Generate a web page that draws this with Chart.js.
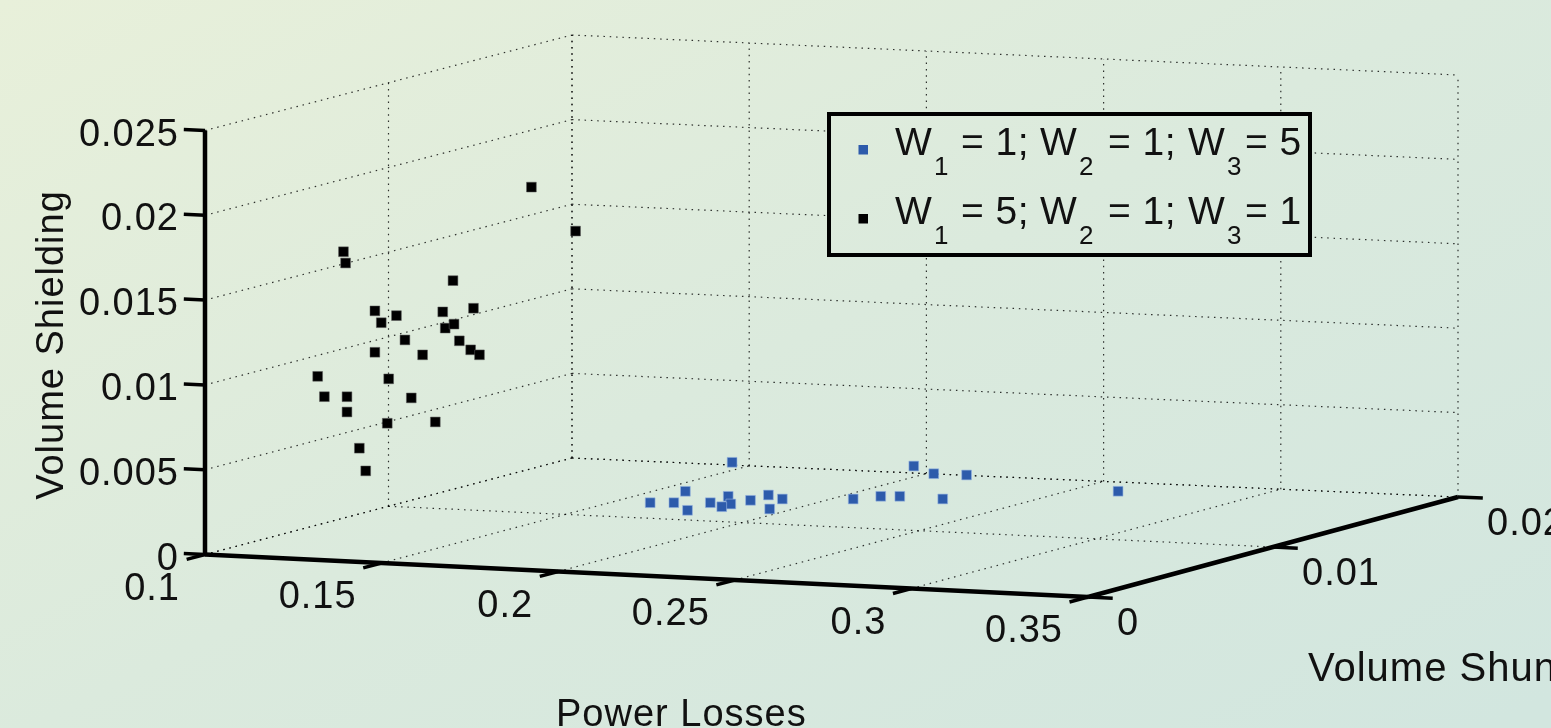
<!DOCTYPE html>
<html>
<head>
<meta charset="utf-8">
<title>Pareto fronts</title>
<script src="https://cdn.jsdelivr.net/npm/chart.js@4"></script>
<style>
  html, body { margin: 0; padding: 0; overflow: hidden; background: #dce9dc; }
  canvas { display: block; }
</style>
</head>
<body>
<canvas id="myChart" width="1551" height="728"></canvas>
<script>
// Tick values of the three axes
const powerLossTicks = [0.1, 0.15, 0.2, 0.25, 0.3, 0.35];
const powerLossLabels = ["0.1", "0.15", "0.2", "0.25", "0.3", "0.35"];
const shuntTicks = [0, 0.01, 0.02];
const shuntLabels = ["0", "0.01", "0.02"];
const shieldingTicks = [0, 0.005, 0.01, 0.015, 0.02, 0.025];
const shieldingLabels = ["0", "0.005", "0.01", "0.015", "0.02", "0.025"];

// W1 = 1; W2 = 1; W3 = 5
const bluePowerLosses = [0.1473, 0.1625, 0.1644, 0.1701, 0.1803, 0.1789, 0.1774, 0.185, 0.1853, 0.1864, 0.1859, 0.1929, 0.1989, 0.21, 0.2142, 0.2188, 0.2316, 0.1993, 0.2065, 0.2156, 0.267];
const blueVolumeShunt = [0.01959, 0.01412, 0.01184, 0.01203, 0.01081, 0.01232, 0.01358, 0.01226, 0.01171, 0.01306, 0.01413, 0.01354, 0.0117, 0.0141, 0.01479, 0.01494, 0.01481, 0.01945, 0.01915, 0.01918, 0.01752];
const blueVolumeShielding = [0.0003, 0.0003, 0.0003, 0.0003, 0.0003, 0.0003, 0.0003, 0.0003, 0.0003, 0.0003, 0.0003, 0.0003, 0.0003, 0.0003, 0.0003, 0.0003, 0.0003, 0.0006, 0.0003, 0.0003, 0.0003];

// W1 = 5; W2 = 1; W3 = 1 (depth can't be read from the flat picture, shunt is a guess)
const blackPowerLosses = [0.182, 0.1945, 0.1288, 0.1294, 0.1598, 0.1377, 0.1438, 0.1569, 0.1656, 0.1395, 0.1462, 0.1576, 0.1601, 0.1616, 0.1648, 0.1673, 0.1377, 0.1512, 0.1215, 0.1416, 0.1234, 0.1298, 0.148, 0.1298, 0.1412, 0.1548, 0.1333, 0.1351];
const blackVolumeShunt = [0.002, 0.002, 0.002, 0.002, 0.002, 0.002, 0.002, 0.002, 0.002, 0.002, 0.002, 0.002, 0.002, 0.002, 0.002, 0.002, 0.002, 0.002, 0.002, 0.002, 0.002, 0.002, 0.002, 0.002, 0.002, 0.002, 0.002, 0.002];
const blackVolumeShielding = [0.0219, 0.01943, 0.01757, 0.01691, 0.01617, 0.01417, 0.01395, 0.0143, 0.0146, 0.01349, 0.01254, 0.01335, 0.01361, 0.01264, 0.01214, 0.01187, 0.01173, 0.01171, 0.01015, 0.0102, 0.00897, 0.00903, 0.00914, 0.00813, 0.00758, 0.00779, 0.00603, 0.00471];

// Corners of the 3D box on the picture, used to flatten the data
const box = {
  floor: { front: [205, 554.5], right: [1088, 597], back: [572, 458], far: [1458, 497] },
  top: { front: [205, 130.5], right: [1088, 172], back: [572, 35], far: [1458, 75] },
};
const pMin = 0.1, pMax = 0.35, sMax = 0.02, zMax = 0.025;

const mix = (a, b, t) => a + (b - a) * t;

function project(p, s, z) {
  const fp = (p - pMin) / (pMax - pMin);
  const fs = s / sMax;
  const fz = z / zMax;
  const out = [0, 1].map((i) => {
    const floor = mix(mix(box.floor.front[i], box.floor.right[i], fp), mix(box.floor.back[i], box.floor.far[i], fp), fs);
    const top = mix(mix(box.top.front[i], box.top.right[i], fp), mix(box.top.back[i], box.top.far[i], fp), fs);
    return mix(floor, top, fz);
  });
  return { x: out[0], y: out[1] };
}

const gridLines = [];
const axisLines = [];
const tickLines = [];

// floor
powerLossTicks.forEach((p) => gridLines.push([project(p, 0, 0), project(p, sMax, 0)]));
shuntTicks.forEach((s) => gridLines.push([project(pMin, s, 0), project(pMax, s, 0)]));
// left wall
shuntTicks.forEach((s) => gridLines.push([project(pMin, s, 0), project(pMin, s, zMax)]));
shieldingTicks.forEach((z) => gridLines.push([project(pMin, 0, z), project(pMin, sMax, z)]));
// back wall
powerLossTicks.forEach((p) => gridLines.push([project(p, sMax, 0), project(p, sMax, zMax)]));
shieldingTicks.forEach((z) => gridLines.push([project(pMin, sMax, z), project(pMax, sMax, z)]));

axisLines.push([project(pMin, 0, 0), project(pMax, 0, 0)]);
axisLines.push([project(pMax, 0, 0), project(pMax, sMax, 0)]);
axisLines.push([project(pMin, 0, 0), project(pMin, 0, zMax)]);

powerLossTicks.forEach((p) => tickLines.push([project(p, 0, 0), project(p, -0.001, 0)]));
shuntTicks.forEach((s) => tickLines.push([project(pMax, s, 0), project(pMax + 0.007, s, 0)]));
shieldingTicks.forEach((z) => tickLines.push([project(pMin, 0, z), project(pMin - 0.006, 0, z)]));

const lineDataset = (points, color, width, dash, order) => ({
  data: points,
  showLine: true,
  borderColor: color,
  borderWidth: width,
  borderDash: dash,
  pointRadius: 0,
  order: order,
});

const markDataset = (label, ps, ss, zs, color, edge) => ({
  label: label,
  data: ps.map((p, i) => project(p, ss[i], zs[i])),
  pointStyle: "rect",
  pointRadius: 6.9,
  pointBackgroundColor: color,
  pointBorderColor: edge,
  pointBorderWidth: 1,
  showLine: false,
  order: 0,
});

function makeBackground(ctx) {
  const g = ctx.createLinearGradient(0, 0, 600, 1180);
  g.addColorStop(0, "#e8f0da");
  g.addColorStop(0.5, "#dbeadd");
  g.addColorStop(1, "#d2e6df");
  return g;
}

const FONT = "38px 'Liberation Sans', Arial, sans-serif";
const LEGEND_FONT = "39px 'Liberation Sans', Arial, sans-serif";
const SUB_FONT = "26px 'Liberation Sans', Arial, sans-serif";

function put(ctx, text, x, y, align, font) {
  ctx.font = font || FONT;
  ctx.textAlign = align || "left";
  ctx.textBaseline = "alphabetic";
  ctx.fillText(text, x, y);
}

const backgroundPlugin = {
  id: "paper",
  beforeDraw(chart) {
    const ctx = chart.ctx;
    ctx.save();
    ctx.fillStyle = makeBackground(ctx);
    ctx.fillRect(0, 0, chart.width, chart.height);
    ctx.restore();
  },
};

// Tick labels and axis titles, placed from the library's scales
const labelPlugin = {
  id: "labels3d",
  afterDatasetsDraw(chart) {
    const ctx = chart.ctx;
    const sx = chart.scales.x;
    const sy = chart.scales.y;
    ctx.save();
    ctx.fillStyle = "#111";
    ctx.letterSpacing = "1px";

    powerLossTicks.forEach((p, i) => {
      const pt = project(p, 0, 0);
      put(ctx, powerLossLabels[i], sx.getPixelForValue(pt.x) - 25, sy.getPixelForValue(pt.y) + 45, "right");
    });
    shuntTicks.forEach((s, i) => {
      const pt = project(pMax, s, 0);
      put(ctx, shuntLabels[i], sx.getPixelForValue(pt.x) + 29, sy.getPixelForValue(pt.y) + 38);
    });
    shieldingTicks.forEach((z, i) => {
      const pt = project(pMin, 0, z);
      put(ctx, shieldingLabels[i], sx.getPixelForValue(pt.x) - 26, sy.getPixelForValue(pt.y) + 15, "right");
    });

    put(ctx, "Volume Shunt", 1308, 681, "left", "40px 'Liberation Sans', Arial, sans-serif");
    put(ctx, "Power Losses", 556, 726);

    ctx.save();
    ctx.translate(63, 345);
    ctx.rotate(-Math.PI / 2);
    put(ctx, "Volume Shielding", 0, 0, "center");
    ctx.restore();

    ctx.restore();
  },
};

// Legend has subscripts, the built in one can't do that
const legendRows = [
  { color: "#2d5bab", y: 155, w: ["1", "2", "3"], v: ["1;", "1;", "5"] },
  { color: "#000000", y: 224, w: ["1", "2", "3"], v: ["5;", "1;", "1"] },
];

const legendPlugin = {
  id: "legend3d",
  afterDraw(chart) {
    const ctx = chart.ctx;
    ctx.save();
    ctx.fillStyle = makeBackground(ctx);
    ctx.fillRect(829, 114, 481, 141);
    ctx.strokeStyle = "#000";
    ctx.lineWidth = 4;
    ctx.strokeRect(829, 114, 481, 141);

    legendRows.forEach((row) => {
      ctx.fillStyle = row.color;
      ctx.fillRect(858.5, row.y - 10, 9.5, 9.5);
      ctx.fillStyle = "#111";
      ctx.letterSpacing = "0.5px";
      put(ctx, "W", 895, row.y, "left", LEGEND_FONT);
      put(ctx, row.w[0], 934, row.y + 20, "left", SUB_FONT);
      put(ctx, "= " + row.v[0], 961, row.y, "left", LEGEND_FONT);
      put(ctx, "W", 1040, row.y, "left", LEGEND_FONT);
      put(ctx, row.w[1], 1079, row.y + 20, "left", SUB_FONT);
      put(ctx, "= " + row.v[1], 1108, row.y, "left", LEGEND_FONT);
      put(ctx, "W", 1188, row.y, "left", LEGEND_FONT);
      put(ctx, row.w[2], 1227, row.y + 20, "left", SUB_FONT);
      put(ctx, "= " + row.v[2], 1245, row.y, "left", LEGEND_FONT);
    });
    ctx.restore();
  },
};

const ctx = document.getElementById("myChart");
new Chart(ctx, {
  type: "scatter",
  data: {
    datasets: [
      markDataset("W1 = 1; W2 = 1; W3 = 5", bluePowerLosses, blueVolumeShunt, blueVolumeShielding, "#2d5bab", "rgba(150,180,225,0.6)"),
      markDataset("W1 = 5; W2 = 1; W3 = 1", blackPowerLosses, blackVolumeShunt, blackVolumeShielding, "#000000", "rgba(90,90,90,0.5)"),
      ...axisLines.map((l) => lineDataset(l, "#000", 4.5, [], 1)),
      ...tickLines.map((l) => lineDataset(l, "#000", 3.5, [], 1)),
      ...gridLines.map((l) => lineDataset(l, "rgba(0,0,0,0.8)", 1.2, [1.5, 4.8], 2)),
    ],
  },
  options: {
    responsive: false,
    animation: false,
    layout: { padding: 0, autoPadding: false },
    scales: {
      x: { type: "linear", display: false, min: 0, max: 1551 },
      y: { type: "linear", display: false, min: 0, max: 728, reverse: true },
    },
    plugins: {
      legend: { display: false },
      tooltip: { enabled: false },
    },
  },
  plugins: [backgroundPlugin, labelPlugin, legendPlugin],
});
</script>
</body>
</html>
